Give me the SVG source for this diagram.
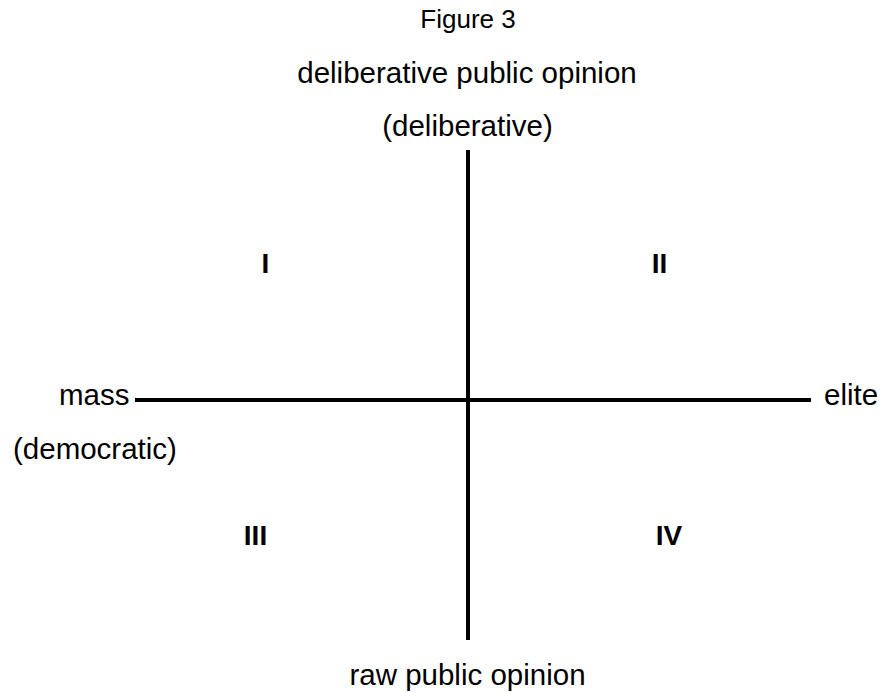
<svg xmlns="http://www.w3.org/2000/svg" width="881" height="693" viewBox="0 0 881 693">
<style>
  text { font-family: "Liberation Sans", Arial, sans-serif; fill: #000; }
  .lbl { font-size: 29.5px; }
  .mid { text-anchor: middle; }
  .num { font-size: 28px; font-weight: bold; text-anchor: middle; }
  .axis { stroke: #000; stroke-width: 4; fill: none; }
</style>
<rect width="881" height="693" fill="#fff"/>
<text x="468" y="28" font-size="26" class="mid">Figure 3</text>
<g id="top"><text class="lbl mid" x="467" y="83">deliberative public opinion</text>
<text class="lbl mid" x="467.5" y="136">(deliberative)</text></g>
<g id="connectors">
  <line class="axis" x1="468" y1="150" x2="468" y2="640"/>
  <line class="axis" x1="135" y1="400" x2="811" y2="400"/>
</g>
<g id="left"><text class="lbl" x="59" y="405">mass</text>
<text class="lbl" x="13" y="459">(democratic)</text></g>
<g id="right"><text class="lbl" x="824" y="405">elite</text></g>
<g id="bottom"><text class="lbl mid" x="467.5" y="685">raw public opinion</text></g>
<g id="q1"><text class="num" x="265.5" y="273">I</text></g>
<g id="q2"><text class="num" x="659.5" y="273">II</text></g>
<g id="q3"><text class="num" x="255.5" y="545">III</text></g>
<g id="q4"><text class="num" x="669" y="545">IV</text></g>
</svg>
